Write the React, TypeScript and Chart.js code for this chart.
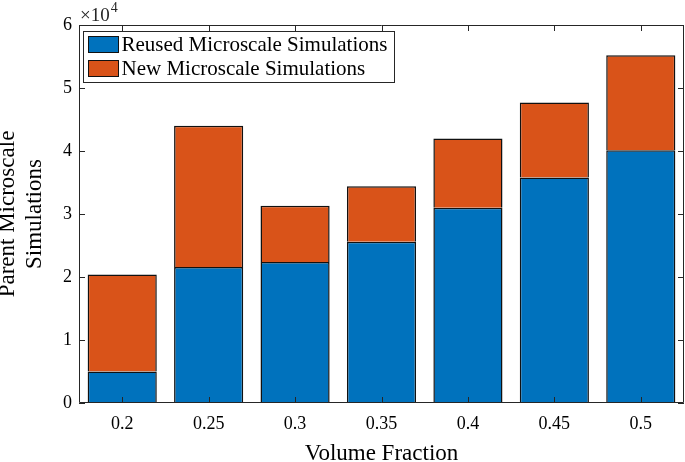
import React, { useEffect, useRef } from "react";
import { Chart, registerables } from "chart.js";

Chart.register(...registerables);

const categories = ["0.2", "0.25", "0.3", "0.35", "0.4", "0.45", "0.5"];
const reusedSims = [5000, 21600, 22400, 25600, 31000, 35800, 40100];
const newSims = [15400, 22400, 8900, 8800, 11000, 11900, 15100];
const seriesNames = ["Reused Microscale Simulations", "New Microscale Simulations"];
const seriesColors = ["#0072BD", "#D95319"];
const yTickValues = [0, 10000, 20000, 30000, 40000, 50000, 60000];

const FONT = "'Liberation Serif', 'Times New Roman', serif";
const AXIS = "#262626";

const decorPlugin = {
  id: "decor",
  afterDraw(chart: any) {
    const { ctx, chartArea } = chart;
    const { left, right, top, bottom } = chartArea;
    const xs = chart.scales.x;
    const ys = chart.scales.y;
    ctx.save();
    // box
    ctx.strokeStyle = AXIS;
    ctx.lineWidth = 1;
    ctx.beginPath();
    ctx.rect(Math.round(left) + 0.5, Math.round(top) + 0.5, Math.round(right - left) - 1, Math.round(bottom - top) - 1);
    ctx.stroke();
    // ticks
    const tl = 6;
    ctx.beginPath();
    categories.forEach((_, i) => {
      const x = Math.round(xs.getPixelForValue(i)) + 0.5;
      ctx.moveTo(x, bottom);
      ctx.lineTo(x, bottom - tl);
      ctx.moveTo(x, top);
      ctx.lineTo(x, top + tl);
    });
    yTickValues.forEach((v) => {
      const y = Math.round(ys.getPixelForValue(v)) + 0.5;
      ctx.moveTo(left, y);
      ctx.lineTo(left + tl, y);
      ctx.moveTo(right, y);
      ctx.lineTo(right - tl, y);
    });
    ctx.stroke();
    // exponent label
    ctx.fillStyle = AXIS;
    ctx.textBaseline = "alphabetic";
    ctx.textAlign = "left";
    ctx.font = `19px ${FONT}`;
    ctx.fillText("\u00d710", left + 1, top - 4);
    const w = ctx.measureText("\u00d710").width;
    ctx.font = `14px ${FONT}`;
    ctx.fillText("4", left + 1 + w + 1, top - 13);
    // legend
    const lx = left + 4.5, ly = top + 6.5, lw = 311, lh = 51;
    ctx.fillStyle = "#ffffff";
    ctx.fillRect(lx, ly, lw, lh);
    ctx.strokeStyle = AXIS;
    ctx.strokeRect(lx, ly, lw, lh);
    ctx.font = `21px ${FONT}`;
    ctx.textBaseline = "middle";
    seriesNames.forEach((name, i) => {
      const sy = ly + 5 + i * 24;
      ctx.fillStyle = seriesColors[i];
      ctx.fillRect(lx + 5, sy, 30, 16);
      ctx.strokeStyle = "#111";
      ctx.strokeRect(lx + 5, sy, 30, 16);
      ctx.fillStyle = "#000";
      ctx.fillText(name, lx + 38, sy + 8.5);
    });
    ctx.restore();
  },
};

export default function App() {
  const ref = useRef<HTMLCanvasElement>(null);
  useEffect(() => {
    if (!ref.current) return;
    const chart = new Chart(ref.current, {
      type: "bar",
      data: {
        labels: categories,
        datasets: [
          {
            label: seriesNames[0],
            data: reusedSims,
            backgroundColor: seriesColors[0],
            borderColor: "#111111",
            borderWidth: 1.5,
            categoryPercentage: 0.8,
            barPercentage: 1,
          },
          {
            label: seriesNames[1],
            data: newSims,
            backgroundColor: seriesColors[1],
            borderColor: "#111111",
            borderWidth: 1.5,
            categoryPercentage: 0.8,
            barPercentage: 1,
          },
        ],
      },
      options: {
        animation: false,
        responsive: false,
        maintainAspectRatio: false,
        layout: { padding: { top: 25, right: 1, left: 0, bottom: 0 } },
        plugins: { legend: { display: false }, tooltip: { enabled: false } },
        scales: {
          x: {
            stacked: true,
            grid: { display: false, drawTicks: false },
            border: { display: false },
            ticks: { color: "#000", font: { family: FONT, size: 18 }, padding: 10, maxRotation: 0 },
            title: {
              display: true,
              text: "Volume Fraction",
              color: "#000",
              font: { family: FONT, size: 23, lineHeight: 1 },
              padding: { top: 0, bottom: -3 },
            },
            afterFit: (s: any) => {
              s.height = 59;
            },
          },
          y: {
            stacked: true,
            min: 0,
            max: 60000,
            grid: { display: false, drawTicks: false },
            border: { display: false },
            ticks: {
              stepSize: 10000,
              color: "#000",
              font: { family: FONT, size: 18 },
              padding: 7,
              callback: (v: any) => String(Number(v) / 10000),
            },
            title: {
              display: true,
              text: ["Parent Microscale", "Simulations"],
              color: "#000",
              font: { family: FONT, size: 23, lineHeight: 1.174 },
              padding: { top: -5.5, bottom: 0 },
            },
            afterFit: (s: any) => {
              s.width = 79;
            },
          },
        },
      },
      plugins: [decorPlugin],
    });
    return () => chart.destroy();
  }, []);
  return (
    <div style={{ position: "fixed", left: 0, top: 0, width: 685, height: 462, background: "#fff" }}>
      <canvas ref={ref} width={685} height={462} style={{ width: 685, height: 462 }} />
    </div>
  );
}
